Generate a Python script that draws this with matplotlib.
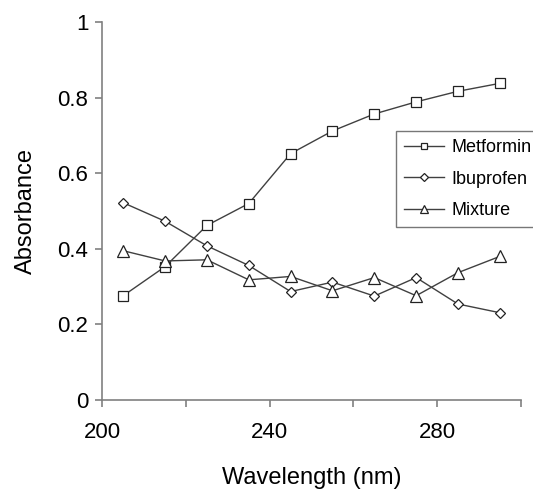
import matplotlib
matplotlib.use('Agg')
import matplotlib.pyplot as plt

plt.rcParams['font.family'] = ['Liberation Sans', 'DejaVu Sans']

# data
wavelength = [205, 215, 225, 235, 245, 255, 265, 275, 285, 295]
metformin = [0.276, 0.353, 0.462, 0.520, 0.652, 0.712, 0.757, 0.789, 0.817, 0.838]
ibuprofen = [0.522, 0.473, 0.408, 0.356, 0.287, 0.312, 0.275, 0.324, 0.254, 0.231]
mixture = [0.395, 0.368, 0.371, 0.318, 0.327, 0.289, 0.324, 0.276, 0.337, 0.380]

x_ticks = [200, 220, 240, 260, 280, 300]
x_labels = ['200', '', '240', '', '280', '']
y_ticks = [0, 0.2, 0.4, 0.6, 0.8, 1]
y_labels = ['0', '0.2', '0.4', '0.6', '0.8', '1']

fig = plt.figure(figsize=(5.33, 4.92), dpi=100)
ax = fig.add_axes([0.192, 0.187, 0.785, 0.768])

line_col = '#404040'
ax.plot(wavelength, metformin, '-', color=line_col, linewidth=1.0, marker='s',
        markersize=6.5, markerfacecolor='white', markeredgecolor='#222222',
        markeredgewidth=0.9, label='Metformin')
ax.plot(wavelength, ibuprofen, '-', color=line_col, linewidth=1.0, marker='D',
        markersize=5.5, markerfacecolor='white', markeredgecolor='#222222',
        markeredgewidth=0.9, label='Ibuprofen')
ax.plot(wavelength, mixture, '-', color=line_col, linewidth=1.0, marker='^',
        markersize=8, markerfacecolor='white', markeredgecolor='#222222',
        markeredgewidth=0.9, label='Mixture')

ax.set_xlim(200, 300)
ax.set_ylim(0, 1)
ax.set_xticks(x_ticks)
ax.set_xticklabels(x_labels)
ax.set_yticks(y_ticks)
ax.set_yticklabels(y_labels)

for side in ['top', 'right']:
    ax.spines[side].set_visible(False)
for side in ['left', 'bottom']:
    ax.spines[side].set_color('#808080')
    ax.spines[side].set_linewidth(1.2)
ax.tick_params(axis='both', direction='out', length=5, width=1.2,
               color='#808080', labelsize=16)
ax.tick_params(axis='x', pad=11)
ax.tick_params(axis='y', pad=5)

ax.set_xlabel('Wavelength (nm)', fontsize=17, labelpad=17)
ax.set_ylabel('Absorbance', fontsize=17, labelpad=15)

leg = ax.legend(loc='upper left', bbox_to_anchor=(396 / 533, 1 - 131 / 492),
                bbox_transform=fig.transFigure, fontsize=13, frameon=True,
                fancybox=False, edgecolor='#555555', handlelength=2.2,
                handletextpad=0.4, labelspacing=0.8, borderpad=0.45,
                borderaxespad=0, markerscale=0.75)
leg.get_frame().set_linewidth(1.0)

fig.savefig('out.png', dpi=100)
